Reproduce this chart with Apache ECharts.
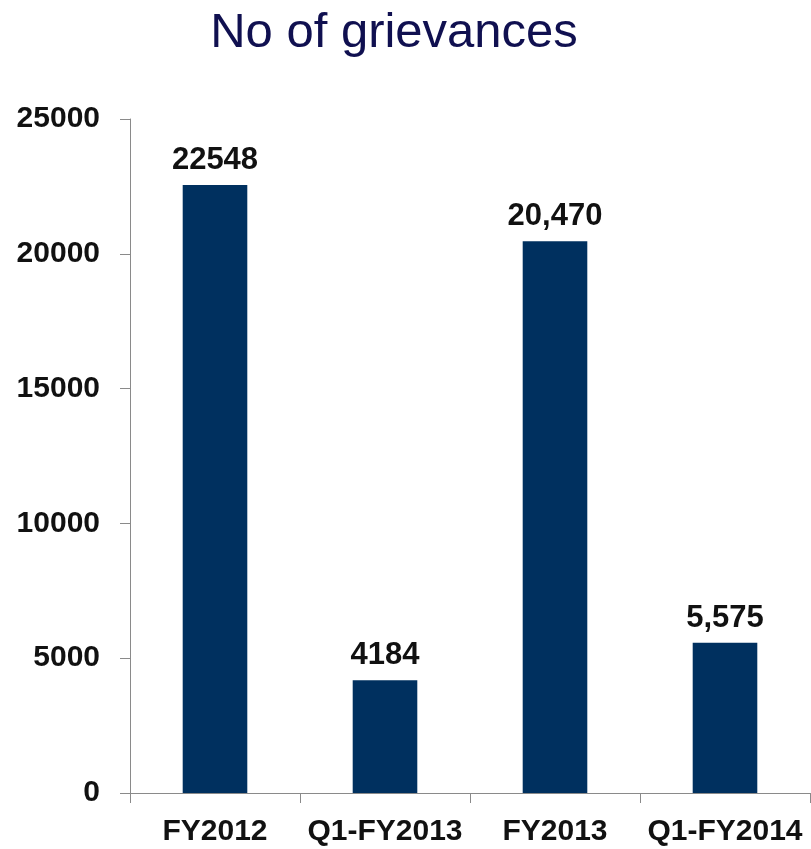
<!DOCTYPE html>
<html>
<head>
<meta charset="utf-8">
<title>No of grievances</title>
<script src="https://cdn.jsdelivr.net/npm/echarts@6/dist/echarts.min.js"></script>
<style>
  html, body { margin: 0; padding: 0; background: #ffffff; }
  #chart { width: 811px; height: 849px; }
</style>
</head>
<body>
<div id="chart"></div>
<script>
// Grievance counts by period
const categories = ['FY2012', 'Q1-FY2013', 'FY2013', 'Q1-FY2014'];
const grievances = [22548, 4184, 20470, 5575];
const valueLabels = ['22548', '4184', '20,470', '5,575'];
const yTicks = [0, 5000, 10000, 15000, 20000, 25000];

const FONT = '"Liberation Sans", Arial, Helvetica, sans-serif';

const chart = echarts.init(document.getElementById('chart'), null, { renderer: 'canvas' });

chart.setOption({
  backgroundColor: '#ffffff',
  animation: false,
  title: {
    text: 'No of grievances',
    left: 389,
    textAlign: 'center',
    top: 4,
    textStyle: {
      fontFamily: FONT,
      fontSize: 49,
      fontWeight: 'normal',
      color: '#101050'
    }
  },
  grid: {
    left: 130,
    right: 1,
    top: 119,
    bottom: 56,
    containLabel: false
  },
  xAxis: {
    type: 'category',
    data: categories,
    axisLine: { show: true, lineStyle: { color: '#8a8a8a', width: 1 } },
    axisTick: { show: true, length: 10, lineStyle: { color: '#8a8a8a' } },
    axisLabel: {
      interval: 0,
      hideOverlap: false,
      margin: 24,
      fontFamily: FONT,
      fontSize: 30,
      fontWeight: 'bold',
      color: '#111111'
    }
  },
  yAxis: {
    type: 'value',
    min: yTicks[0],
    max: yTicks[yTicks.length - 1],
    interval: yTicks[1] - yTicks[0],
    axisLine: { show: true, lineStyle: { color: '#8a8a8a', width: 1 } },
    axisTick: { show: true, length: 10, lineStyle: { color: '#8a8a8a' } },
    splitLine: { show: false },
    axisLabel: {
      margin: 30,
      fontFamily: FONT,
      fontSize: 30,
      fontWeight: 'bold',
      color: '#111111',
      formatter: (v) => String(v)
    }
  },
  series: [{
    type: 'bar',
    data: grievances,
    barWidth: '38%',
    itemStyle: { color: '#00305f' },
    label: {
      show: true,
      position: 'top',
      distance: 9,
      fontFamily: FONT,
      fontSize: 31,
      fontWeight: 'bold',
      color: '#111111',
      formatter: (p) => valueLabels[p.dataIndex]
    }
  }]
});
</script>
</body>
</html>
